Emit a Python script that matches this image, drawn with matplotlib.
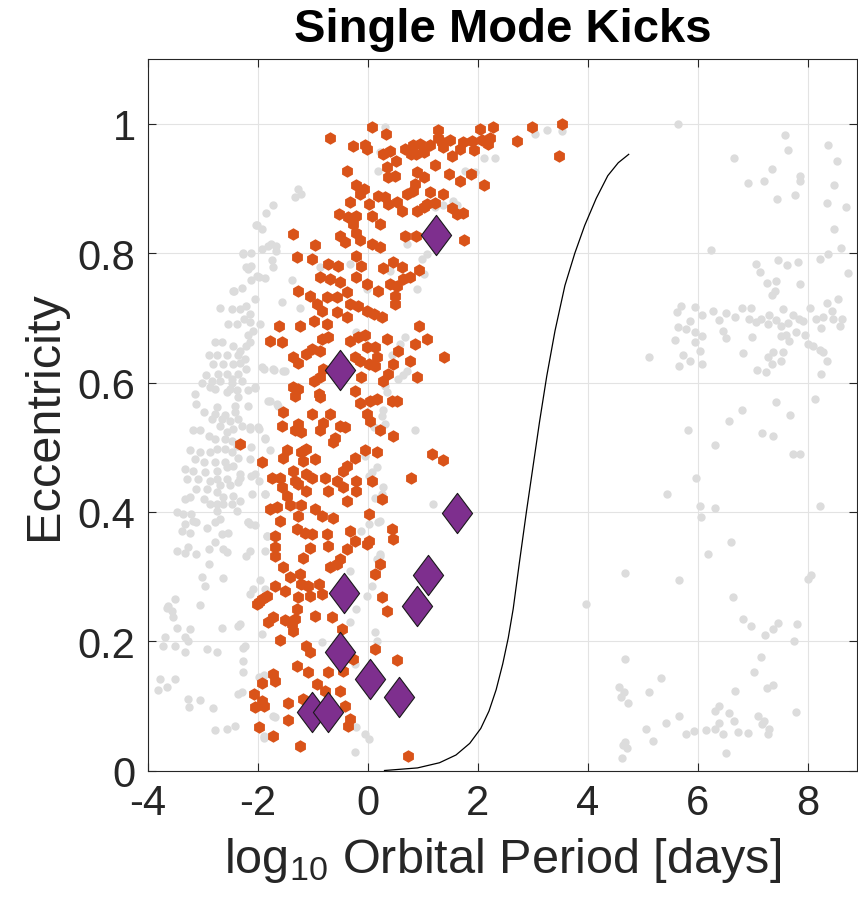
import matplotlib
matplotlib.use("Agg")
import matplotlib.pyplot as plt
import numpy as np
from matplotlib.path import Path

# ---- data: (log10 P [days], eccentricity) ----
# single mode kick results (orange)
kicks_top = [
    (0.08, 0.996), (0.33, 0.985), (-0.70, 0.978), (-0.27, 0.966), (-0.05, 0.968), (-0.01, 0.962),
    (0.28, 0.953), (0.40, 0.958), (0.50, 0.943), (0.67, 0.962), (0.82, 0.967), (0.95, 0.969),
    (1.01, 0.956), (0.87, 0.954), (-0.39, 0.928), (0.34, 0.933), (0.37, 0.918), (0.49, 0.920),
    (0.89, 0.925), (1.01, 0.918), (0.86, 0.907), (-0.21, 0.905), (-0.08, 0.899), (-0.15, 0.892),
    (0.19, 0.889), (0.31, 0.887), (0.37, 0.876), (0.52, 0.879), (0.61, 0.866), (0.70, 0.892),
    (0.82, 0.897), (0.89, 0.866), (1.01, 0.871), (-0.33, 0.879), (0.01, 0.876), (-0.52, 0.861),
    (-0.36, 0.856), (-0.27, 0.845), (-0.21, 0.858), (0.07, 0.857), (0.21, 0.845), (-1.36, 0.830),
    (-0.96, 0.813), (-0.51, 0.827), (-0.42, 0.817), (-0.21, 0.832), (-0.15, 0.820), (0.07, 0.814),
    (0.22, 0.809), (0.67, 0.827), (0.87, 0.826), (-1.30, 0.794), (-1.02, 0.791), (-0.72, 0.783),
    (-0.54, 0.780), (-0.21, 0.796), (-0.12, 0.781), (0.28, 0.777), (0.46, 0.786), (0.61, 0.778),
    (0.76, 0.763), (0.93, 0.774), (-0.87, 0.763), (-0.69, 0.760), (-0.51, 0.755), (-0.21, 0.763),
    (-0.02, 0.753), (0.19, 0.742), (0.40, 0.753), (0.52, 0.750), (0.64, 0.760), (-1.27, 0.742),
    (-1.05, 0.734), (-0.75, 0.732), (-0.57, 0.732), (-0.39, 0.740), (-0.33, 0.722), (-0.18, 0.719),
    (-0.02, 0.711), (0.10, 0.706), (0.25, 0.701), (0.49, 0.734), (0.49, 0.722), (-0.93, 0.722),
    (-0.84, 0.711), (-0.57, 0.709), (-0.39, 0.701), (-0.99, 0.696), (-0.75, 0.691), (-1.24, 0.688),
    (-1.61, 0.688), (0.92, 0.688),
]
kicks_tail = [
    (1.27, 0.991), (1.28, 0.979), (1.34, 0.972), (1.49, 0.975), (1.37, 0.964), (1.13, 0.968),
    (0.79, 0.954), (1.52, 0.951), (1.67, 0.961), (1.73, 0.972), (1.89, 0.974), (1.92, 0.959),
    (2.04, 0.992), (2.28, 0.995), (2.07, 0.975), (2.19, 0.969), (2.22, 0.979), (2.70, 0.973),
    (2.99, 0.995), (3.52, 1.000), (3.48, 0.951), (1.22, 0.936), (1.48, 0.923), (1.67, 0.911),
    (1.87, 0.923), (2.11, 0.906), (1.13, 0.894), (1.37, 0.891), (1.07, 0.876), (1.22, 0.877),
    (1.52, 0.870), (1.61, 0.861), (1.73, 0.863), (1.75, 0.821), (1.38, 0.640), (1.36, 0.481),
]
kicks_mid = [
    (-1.79, 0.665), (-1.57, 0.662), (-1.36, 0.639), (-1.27, 0.631), (-1.12, 0.644), (-1.02, 0.652),
    (-0.87, 0.649), (-0.84, 0.667), (-0.72, 0.670), (-0.33, 0.665), (-0.18, 0.670), (-0.05, 0.673),
    (0.34, 0.667), (0.55, 0.649), (0.86, 0.660), (1.07, 0.667), (-0.02, 0.655), (0.13, 0.655),
    (-0.24, 0.639), (-0.15, 0.634), (0.01, 0.629), (0.13, 0.626), (0.16, 0.639), (0.46, 0.629),
    (0.37, 0.613), (0.28, 0.603), (0.76, 0.634), (0.89, 0.609), (-0.12, 0.608), (-0.81, 0.621),
    (-0.99, 0.603), (-0.87, 0.608), (-1.36, 0.593), (-1.27, 0.590), (-1.33, 0.580), (-0.90, 0.582),
    (-0.87, 0.577), (-0.24, 0.587), (-0.15, 0.569), (0.04, 0.572), (0.16, 0.575), (0.43, 0.572),
    (0.52, 0.572), (-1.54, 0.554), (-1.02, 0.552), (-0.69, 0.551), (-0.81, 0.538), (-0.87, 0.526),
    (-1.27, 0.536), (-1.33, 0.526), (-1.21, 0.523), (-1.57, 0.533), (-0.51, 0.533), (-0.42, 0.531),
    (-0.60, 0.515), (-0.63, 0.508), (-0.02, 0.551), (0.04, 0.541), (0.22, 0.527), (0.46, 0.518),
    (-2.33, 0.505), (-1.93, 0.477), (-1.48, 0.495), (-1.54, 0.484), (-1.21, 0.492), (-1.12, 0.497),
    (-1.18, 0.479), (-0.96, 0.482), (-0.24, 0.484), (-0.05, 0.495), (0.16, 0.493), (1.16, 0.490),
    (0.79, 0.453), (-0.39, 0.471), (-0.45, 0.464), (-1.36, 0.464), (-1.33, 0.448), (-1.12, 0.459),
    (-1.02, 0.453), (-1.75, 0.453), (-1.60, 0.453), (-0.78, 0.453), (-0.57, 0.448), (-0.21, 0.448),
    (0.07, 0.448), (-1.57, 0.438), (-1.48, 0.425), (-1.27, 0.443), (-1.12, 0.433), (-0.72, 0.433),
    (-0.45, 0.438), (-0.21, 0.433), (-0.39, 0.417), (0.25, 0.420), (-1.78, 0.404), (-1.66, 0.407),
    (-1.42, 0.410), (-1.21, 0.410), (-0.96, 0.404), (-0.84, 0.394), (-0.63, 0.391), (0.01, 0.397),
    (-1.27, 0.394), (-1.60, 0.386), (-1.69, 0.363), (-1.30, 0.373), (-1.15, 0.368), (-1.02, 0.366),
    (-0.75, 0.366), (-0.33, 0.371), (-0.24, 0.355), (0.01, 0.355), (0.43, 0.373), (0.46, 0.358),
]
kicks_low = [
    (-1.69, 0.345), (-1.69, 0.332), (-1.05, 0.344), (-0.72, 0.348), (-0.02, 0.350), (-0.39, 0.343),
    (-0.51, 0.327), (-0.57, 0.320), (-0.69, 0.314), (-1.18, 0.329), (-1.54, 0.314), (-1.42, 0.299),
    (-1.24, 0.304), (-1.21, 0.288), (-1.09, 0.286), (-0.90, 0.288), (-0.84, 0.273), (-1.05, 0.270),
    (-1.69, 0.286), (-1.51, 0.278), (-1.84, 0.270), (-1.99, 0.260), (-1.27, 0.268), (-1.30, 0.250),
    (-1.33, 0.234), (-0.96, 0.239), (-0.66, 0.238), (-1.51, 0.233), (-1.39, 0.227), (-1.36, 0.216),
    (-1.81, 0.229), (-1.72, 0.237), (-1.60, 0.202), (-1.12, 0.193), (-1.05, 0.183), (-0.48, 0.219),
    (-0.27, 0.172), (-0.45, 0.154), (0.13, 0.188), (0.52, 0.171), (0.22, 0.319), (0.13, 0.304),
    (0.25, 0.268), (0.34, 0.247), (0.73, 0.023), (-1.24, 0.038), (-1.72, 0.054), (-1.99, 0.067),
    (-1.93, 0.108), (-2.05, 0.098), (-2.08, 0.118), (-1.93, 0.136), (-1.72, 0.149), (-1.69, 0.139),
    (-1.30, 0.161), (-1.09, 0.152), (-0.72, 0.152), (-0.93, 0.134), (-0.78, 0.123), (-0.51, 0.123),
    (-0.42, 0.100), (-1.18, 0.111), (-1.45, 0.104), (-1.45, 0.078), (-0.33, 0.080), (-0.36, 0.069),
    (-2.02, 0.258), (-1.93, 0.266), (-1.90, 0.100),
]

# observed population (grey)
pop_left = [
    (-1.73, 0.875), (-1.86, 0.862), (-2.04, 0.844), (-1.93, 0.838), (-1.77, 0.814), (-1.67, 0.812),
    (-1.67, 0.804), (-1.93, 0.807), (-2.27, 0.800), (-1.75, 0.789), (-1.72, 0.778), (-2.19, 0.776),
    (-2.12, 0.781), (-2.12, 0.758), (-1.98, 0.764), (-1.87, 0.761), (-2.30, 0.746), (-2.44, 0.742),
    (-2.06, 0.729), (-2.21, 0.719), (-2.33, 0.714), (-2.48, 0.714), (-2.69, 0.716), (-2.15, 0.706),
    (-2.26, 0.698), (-2.15, 0.693), (-1.96, 0.691), (-2.55, 0.690), (-2.39, 0.691), (-2.09, 0.680),
    (-2.18, 0.673), (-2.15, 0.662), (-2.66, 0.663), (-2.78, 0.662), (-2.45, 0.657), (-2.21, 0.657),
    (-2.33, 0.649), (-2.90, 0.642), (-2.75, 0.642), (-2.57, 0.642), (-2.36, 0.642), (-2.24, 0.637),
    (-2.81, 0.629), (-2.63, 0.629), (-2.45, 0.629), (-2.33, 0.631), (-2.21, 0.621), (-1.90, 0.621),
    (-1.71, 0.619), (-1.51, 0.618), (-2.95, 0.611), (-2.72, 0.613), (-2.57, 0.613), (-2.48, 0.606),
    (-2.36, 0.613), (-3.02, 0.600), (-2.84, 0.603), (-2.69, 0.603), (-2.48, 0.600), (-2.30, 0.603),
    (-2.06, 0.591), (-2.18, 0.589), (-2.39, 0.588), (-2.51, 0.590), (-2.78, 0.590), (-2.87, 0.593),
    (-3.15, 0.582), (-2.57, 0.585), (-2.36, 0.577), (-3.12, 0.567), (-2.75, 0.562), (-2.42, 0.564),
    (-2.18, 0.563), (-1.81, 0.572), (-1.63, 0.564), (-2.99, 0.554), (-2.78, 0.551), (-2.60, 0.550),
    (-2.42, 0.554), (-2.84, 0.544), (-2.66, 0.544), (-2.51, 0.541), (-2.36, 0.544), (-2.69, 0.533),
    (-2.45, 0.528), (-2.30, 0.533), (-2.15, 0.528), (-1.99, 0.528), (-1.87, 0.514), (-3.18, 0.526),
    (-3.05, 0.526), (-2.90, 0.518), (-2.57, 0.523), (-2.78, 0.513), (-2.60, 0.513), (-2.48, 0.510),
    (-2.39, 0.502), (-3.24, 0.495), (-3.05, 0.492), (-2.87, 0.492), (-2.75, 0.497), (-2.60, 0.497),
    (-2.12, 0.500), (-2.48, 0.492), (-2.36, 0.484), (-3.15, 0.482), (-2.99, 0.477), (-2.78, 0.477),
    (-2.60, 0.477), (-2.45, 0.471), (-3.33, 0.466), (-3.18, 0.464), (-2.96, 0.461), (-2.75, 0.464),
    (-2.57, 0.469), (-2.33, 0.459), (-2.12, 0.456), (-3.30, 0.451), (-3.09, 0.451), (-2.87, 0.448),
    (-2.75, 0.451), (-2.57, 0.451), (-2.36, 0.446), (-1.99, 0.448), (-3.12, 0.435), (-2.93, 0.435),
    (-2.69, 0.441), (-2.51, 0.441), (-3.24, 0.423), (-3.33, 0.420), (-2.99, 0.420), (-2.75, 0.430),
    (-2.63, 0.423), (-2.45, 0.425), (-2.87, 0.412), (-2.75, 0.412), (-2.63, 0.412), (-2.48, 0.412),
    (-2.33, 0.417), (-1.87, 0.428), (-3.48, 0.400), (-3.36, 0.397), (-3.21, 0.397), (-2.75, 0.402),
    (-2.39, 0.402), (-1.21, 0.892), (-1.33, 0.887), (-1.27, 0.900), (-2.02, 0.843), (-2.27, 0.799),
    (-2.12, 0.801), (-1.81, 0.812), (-2.21, 0.778), (-2.02, 0.765), (-2.45, 0.742), (-1.39, 0.758),
    (-0.33, 0.783), (-0.87, 0.778), (0.40, 0.772), (-0.02, 0.745), (-1.57, 0.724), (-1.24, 0.716),
]
pop_lowleft = [
    (-3.18, 0.386), (-3.33, 0.381), (-3.12, 0.384), (-3.39, 0.371), (-3.24, 0.368), (-2.93, 0.375),
    (-2.78, 0.384), (-2.69, 0.389), (-2.15, 0.381), (-2.18, 0.384), (-2.66, 0.366), (-2.54, 0.368),
    (-2.78, 0.353), (-2.90, 0.343), (-3.27, 0.345), (-3.48, 0.339), (-3.33, 0.336), (-3.12, 0.335),
    (-2.63, 0.343), (-2.57, 0.338), (-2.90, 0.319), (-2.15, 0.340), (-2.21, 0.332), (-1.87, 0.339),
    (-1.84, 0.363), (-3.02, 0.299), (-2.63, 0.297), (-2.96, 0.286), (-1.96, 0.294), (-2.09, 0.281),
    (-2.15, 0.273), (-1.87, 0.281), (-3.51, 0.265), (-3.63, 0.255), (-3.57, 0.247), (-3.66, 0.252),
    (-3.54, 0.237), (-3.05, 0.256), (-3.48, 0.221), (-3.24, 0.219), (-2.66, 0.221), (-2.36, 0.224),
    (-3.69, 0.206), (-3.72, 0.192), (-3.51, 0.192), (-3.33, 0.206), (-3.27, 0.201), (-3.33, 0.183),
    (-2.93, 0.188), (-2.75, 0.183), (-2.24, 0.192), (-2.27, 0.170), (-2.28, 0.152), (-1.93, 0.211),
    (-3.78, 0.142), (-3.81, 0.124), (-3.66, 0.129), (-3.51, 0.142), (-3.27, 0.111), (-3.05, 0.109),
    (-3.25, 0.098), (-2.82, 0.096), (-2.36, 0.119), (-2.78, 0.062), (-2.57, 0.064), (-2.42, 0.069),
    (-1.90, 0.051), (-1.69, 0.082), (-1.90, 0.147), (-1.99, 0.144), (-2.33, 0.227), (-2.27, 0.190),
    (-2.30, 0.121), (-1.72, 0.085), (-1.90, 0.054), (-1.93, 0.624), (-1.72, 0.621), (-1.54, 0.618),
    (-2.05, 0.593), (-1.78, 0.572), (-1.66, 0.567), (-1.87, 0.513), (-2.15, 0.531), (-2.00, 0.531),
    (-1.78, 0.495), (-2.15, 0.482), (-2.05, 0.458), (-2.33, 0.453), (-2.11, 0.428), (-1.87, 0.428),
    (-2.18, 0.384), (-2.05, 0.379), (-1.84, 0.363),
]
pop_centre = [
    (0.31, 0.995), (0.22, 0.956), (0.19, 0.928), (2.10, 0.947), (2.31, 0.948), (1.76, 0.928),
    (1.95, 0.925), (1.55, 0.881), (1.61, 0.874), (1.37, 0.874), (1.22, 0.871), (1.07, 0.799),
    (0.98, 0.791), (0.70, 0.814), (1.01, 0.768), (0.89, 0.745), (0.70, 0.760), (3.04, 0.984),
    (3.25, 0.991), (3.52, 0.989), (0.67, 0.670), (0.58, 0.660), (0.43, 0.642), (0.70, 0.618),
    (0.64, 0.611), (0.55, 0.606), (0.31, 0.595), (0.34, 0.585), (0.28, 0.557), (0.25, 0.549),
    (0.10, 0.531), (0.31, 0.536), (0.85, 0.526), (-0.05, 0.487), (0.16, 0.469), (0.07, 0.461),
    (0.01, 0.456), (0.28, 0.438), (0.25, 0.428), (0.13, 0.422), (1.19, 0.412), (0.22, 0.386),
    (0.01, 0.381), (-0.12, 0.371), (-0.21, 0.678), (0.22, 0.335), (0.16, 0.327), (0.07, 0.286),
    (-0.02, 0.270), (-0.33, 0.309), (-0.33, 0.229), (-0.84, 0.198), (0.13, 0.214), (0.16, 0.201),
    (-0.24, 0.165), (-0.21, 0.067), (-0.05, 0.057), (0.01, 0.049), (-0.24, 0.028), (0.19, 0.384),
    (0.22, 0.332), (-0.21, 0.250),
]
pop_right = [
    (5.64, 1.000), (7.59, 0.983), (7.63, 0.959), (6.66, 0.947), (7.35, 0.931), (7.20, 0.912),
    (6.91, 0.909), (7.86, 0.919), (7.86, 0.911), (7.43, 0.884), (7.77, 0.890), (8.37, 0.968),
    (8.53, 0.942), (8.47, 0.906), (8.35, 0.878), (8.69, 0.872), (8.47, 0.838), (6.23, 0.805),
    (8.60, 0.808), (8.37, 0.799), (8.21, 0.791), (7.05, 0.784), (7.45, 0.789), (7.61, 0.782),
    (7.81, 0.787), (8.72, 0.769), (7.12, 0.771), (7.26, 0.754), (7.42, 0.757), (7.85, 0.752),
    (7.40, 0.741), (7.34, 0.736), (5.69, 0.719), (5.61, 0.709), (5.95, 0.717), (6.07, 0.704),
    (5.86, 0.696), (6.27, 0.711), (6.50, 0.707), (6.68, 0.702), (6.80, 0.715), (6.96, 0.716),
    (6.39, 0.697), (5.64, 0.686), (5.79, 0.683), (5.95, 0.678), (6.07, 0.672), (6.46, 0.679),
    (5.58, 0.666), (5.95, 0.662), (6.50, 0.669), (6.98, 0.670), (6.93, 0.698), (7.05, 0.693),
    (7.14, 0.698), (7.29, 0.704), (7.28, 0.690), (7.42, 0.697), (7.54, 0.714), (7.51, 0.688),
    (7.63, 0.692), (7.72, 0.705), (7.83, 0.699), (7.91, 0.696), (8.03, 0.715), (8.15, 0.698),
    (8.27, 0.701), (8.43, 0.710), (8.54, 0.729), (8.35, 0.723), (8.46, 0.698), (8.58, 0.688),
    (8.61, 0.698), (8.23, 0.684), (7.78, 0.678), (7.60, 0.674), (7.51, 0.672), (7.66, 0.665),
    (7.94, 0.673), (8.00, 0.660), (8.09, 0.657), (8.21, 0.651), (8.27, 0.647), (6.04, 0.649),
    (5.73, 0.642), (5.86, 0.634), (5.65, 0.625), (6.07, 0.628), (6.82, 0.645), (7.36, 0.647),
    (7.28, 0.639), (7.54, 0.647), (7.51, 0.634), (7.34, 0.629), (7.08, 0.620), (7.23, 0.617),
    (8.35, 0.634), (8.23, 0.613), (5.11, 0.639), (7.42, 0.570), (6.80, 0.558), (6.57, 0.540),
    (7.68, 0.550), (8.13, 0.574), (5.81, 0.527), (7.16, 0.522), (7.37, 0.518),
    (6.31, 0.503), (7.72, 0.490), (7.85, 0.490), (5.97, 0.452), (5.44, 0.428), (6.03, 0.409),
    (6.30, 0.406), (6.05, 0.392), (8.21, 0.409), (6.60, 0.354), (6.19, 0.335), (4.67, 0.306),
    (5.66, 0.294), (8.06, 0.302), (8.00, 0.296), (6.64, 0.268), (3.97, 0.258), (6.82, 0.234),
    (6.96, 0.224), (7.21, 0.209), (7.36, 0.219), (7.45, 0.228), (7.80, 0.226), (7.75, 0.201),
    (4.67, 0.172), (5.33, 0.143), (7.15, 0.175), (7.01, 0.152), (7.25, 0.127), (7.37, 0.133),
    (6.68, 0.123), (5.11, 0.121), (4.57, 0.129), (4.60, 0.113), (4.72, 0.105), (4.66, 0.121),
    (5.66, 0.085), (5.42, 0.073), (5.05, 0.064), (5.19, 0.045), (5.79, 0.056), (5.93, 0.061),
    (6.15, 0.063), (6.30, 0.064), (6.31, 0.092), (6.39, 0.099), (6.56, 0.089), (6.39, 0.074),
    (6.46, 0.056), (6.66, 0.077), (6.73, 0.059), (6.91, 0.058), (7.09, 0.084), (7.16, 0.072),
    (7.20, 0.076), (7.28, 0.056), (7.29, 0.064), (7.78, 0.090), (6.50, 0.027), (4.67, 0.044),
    (4.63, 0.039), (4.70, 0.035), (4.62, 0.020),
]

# purple diamonds
special_logp = [1.24, -0.51, 1.62, 1.09, -0.44, 0.89, -0.51, 0.04, 0.56, -1.02, -0.73]
special_ecc = [0.829, 0.619, 0.399, 0.303, 0.275, 0.254, 0.183, 0.141, 0.114, 0.091, 0.091]

# black boundary curve
curve_logp = [0.30, 0.9, 1.3, 1.6, 1.85, 2.05, 2.2, 2.33, 2.45, 2.55, 2.64, 2.75, 2.88, 3.00,
              3.12, 3.25, 3.40, 3.58, 3.76, 3.94, 4.15, 4.36, 4.55, 4.74]
curve_ecc = [0.0, 0.004, 0.012, 0.024, 0.042, 0.065, 0.092, 0.125, 0.165, 0.205, 0.25, 0.32,
             0.40, 0.47, 0.54, 0.61, 0.68, 0.75, 0.80, 0.843, 0.885, 0.92, 0.94, 0.953]

# ---- style ----
plt.rcParams['font.family'] = ['Liberation Sans', 'DejaVu Sans']
plt.rcParams['mathtext.fontset'] = 'custom'
plt.rcParams['mathtext.rm'] = 'Liberation Sans'
plt.rcParams['mathtext.default'] = 'regular'
plt.rcParams['axes.unicode_minus'] = False

ink = "#262626"
orange = "#D95319"
grey = "#DCDCDC"
purple = "#7E2F8E"

fig = plt.figure(figsize=(8.58, 9.12), dpi=100)
ax = fig.add_axes([148 / 858, 140.5 / 912, 709.5 / 858, 711.2 / 912])

grey_pts = np.array(pop_left + pop_lowleft + pop_centre + pop_right)
orange_pts = np.array(kicks_top + kicks_tail + kicks_mid + kicks_low)

ax.plot(grey_pts[:, 0], grey_pts[:, 1], 'o', ms=6, color=grey, mec='none', zorder=2)
ax.plot(orange_pts[:, 0], orange_pts[:, 1], 'h', ms=9, color=orange, mec='none', zorder=3)
ax.plot(curve_logp, curve_ecc, '-', color='k', lw=0.9, zorder=4)

diamond = Path([(0, 1), (0.75, 0), (0, -1), (-0.75, 0), (0, 1)],
               [Path.MOVETO, Path.LINETO, Path.LINETO, Path.LINETO, Path.CLOSEPOLY])
ax.plot(special_logp, special_ecc, ls='none', marker=diamond, ms=29, color=purple,
        mec='#1a1a1a', mew=0.8, zorder=5)

ax.set_xlim(-4, 8.9)
ax.set_ylim(0, 1.1)
ax.set_xticks([-4, -2, 0, 2, 4, 6, 8])
ax.set_xticklabels(["-4", "-2", "0", "2", "4", "6", "8"])
ax.set_yticks([0, 0.2, 0.4, 0.6, 0.8, 1])
ax.set_yticklabels(["0", "0.2", "0.4", "0.6", "0.8", "1"])

ax.grid(True, color="#E3E3E3", lw=0.8, zorder=0)
ax.set_axisbelow(True)
ax.tick_params(direction='in', length=6, width=0.8, colors=ink, labelsize=30,
               top=True, right=True, pad=9)
for s in ax.spines.values():
    s.set_color(ink)
    s.set_linewidth(0.8)

ax.set_xlabel("log$_{10}$ Orbital Period [days]", fontsize=35, color=ink, labelpad=9)
ax.set_ylabel("Eccentricity", fontsize=35, color=ink, labelpad=8)
ax.set_title("Single Mode Kicks", fontsize=34, fontweight='bold', color='k', pad=13)

fig.savefig("out.png", dpi=100)
